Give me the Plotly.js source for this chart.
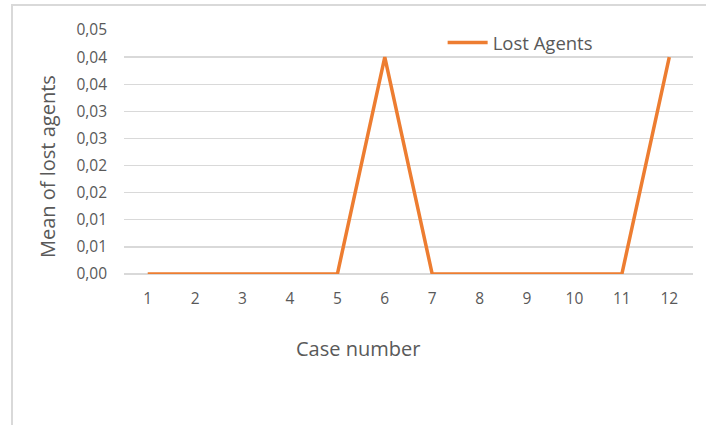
<!DOCTYPE html>
<html><head><meta charset="utf-8">
<script src="https://cdn.plot.ly/plotly-3.0.1.min.js"></script>
<style>
html,body{margin:0;padding:0;background:#fff;}
#wrap{position:relative;width:706px;height:425px;}
#frame{position:absolute;left:11px;top:4px;width:700px;height:430px;border-left:2px solid #d9d9d9;border-top:2px solid #d9d9d9;box-sizing:border-box;}
#chart{position:absolute;left:0;top:0;width:706px;height:425px;}
</style></head>
<body><div id="wrap"><div id="frame"></div><div id="chart"></div></div>
<script>
const cases = ['1','2','3','4','5','6','7','8','9','10','11','12'];
const lostAgents = [0,0,0,0,0,0.04,0,0,0,0,0,0.04];
const yTickVals = [0,0.005,0.01,0.015,0.02,0.025,0.03,0.035,0.04,0.045];
const yTickText = ['0,00','0,01','0,01','0,02','0,02','0,03','0,03','0,04','0,04','0,05'];
const xTitle = 'Case number';
const yTitle = 'Mean of lost agents';
const font = "'Open Sans', 'Liberation Sans', sans-serif";
Plotly.newPlot('chart', [{
  x: cases, y: lostAgents, type: 'scatter', mode: 'lines', name: 'Lost Agents',
  line: {color: '#ED7D31', width: 3.5}
}], {
  width: 706, height: 425,
  margin: {l: 124, r: 13, t: 30, b: 151},
  paper_bgcolor: 'rgba(0,0,0,0)', plot_bgcolor: 'rgba(0,0,0,0)',
  font: {family: font, color: '#595959', size: 15},
  showlegend: true,
  legend: {x: 0.56, y: 0.947, xanchor: 'left', yanchor: 'middle', bgcolor: 'rgba(0,0,0,0)',
    font: {size: 18.5, color: '#595959'}, itemwidth: 40},
  xaxis: {type: 'category', range: [-0.5, 11.5], showgrid: false, zeroline: false,
    showline: false, ticks: '', ticklabelstandoff: 13, tickfont: {size: 15.5}},
  yaxis: {range: [0, 0.045], tickvals: yTickVals, ticktext: yTickText,
    showgrid: true, gridcolor: '#d9d9d9', gridwidth: 1.3, zeroline: true, zerolinecolor: '#d9d9d9', zerolinewidth: 1.3,
    showline: false, ticks: '', ticklabelstandoff: 16, tickfont: {size: 15.5}},
  annotations: [
    {text: xTitle, xref: 'paper', yref: 'paper', x: (358-124)/569, y: -(348-274)/244,
     xanchor: 'center', yanchor: 'middle', showarrow: false, font: {size: 20, color: '#595959'}},
    {text: yTitle, xref: 'paper', yref: 'paper', x: -(124-47)/569, y: (274-167)/244,
     xanchor: 'center', yanchor: 'middle', textangle: -90, showarrow: false, font: {size: 20, color: '#595959'}}
  ]
}, {displayModeBar: false, staticPlot: true});
</script></body></html>
